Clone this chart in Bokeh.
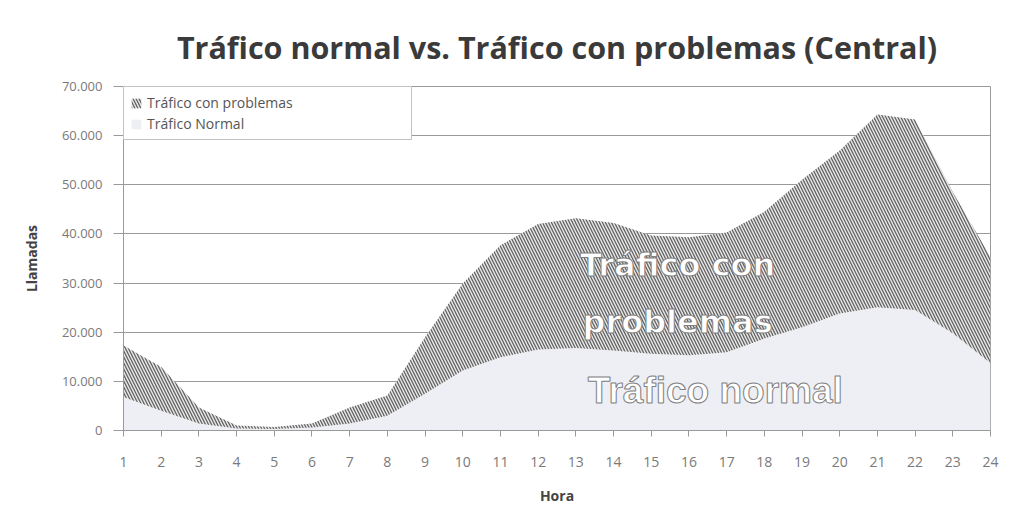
from bokeh.plotting import figure
from bokeh.models import ColumnDataSource, FixedTicker, Legend, LegendItem, Label, Range1d
from bokeh.embed import file_html
from bokeh.resources import INLINE

# ---- data ----
horas = list(range(1, 25))
hour_labels = [str(h) for h in horas]
trafico_normal = [6800, 4000, 1400, 400, 300, 600, 1400, 3000, 7500, 12200, 14900, 16500,
                  16800, 16300, 15600, 15300, 15900, 18700, 21000, 23800, 25100, 24500, 19800, 13700]
trafico_problemas = [10500, 8900, 3300, 600, 400, 800, 3300, 4100, 11500, 17700, 22800, 25500,
                     26400, 25900, 24100, 24000, 24400, 25800, 30000, 33200, 39200, 38800, 28700, 21600]
y_ticks = [0, 10000, 20000, 30000, 40000, 50000, 60000, 70000]
y_tick_labels = ["0", "10.000", "20.000", "30.000", "40.000", "50.000", "60.000", "70.000"]

titulo = "Tráfico normal vs. Tráfico con problemas (Central)"

total = [a + b for a, b in zip(trafico_normal, trafico_problemas)]
zeros = [0] * len(horas)
src = ColumnDataSource(dict(x=horas, zero=zeros, normal=trafico_normal, total=total))

p = figure(width=1014, height=507, output_backend="svg", toolbar_location=None,
           x_range=Range1d(1, 24), y_range=Range1d(0, 70000),
           min_border_left=123, min_border_right=24, min_border_top=86, min_border_bottom=71)

p.title.text = titulo
p.title.align = "center"
p.title.text_font = "Open Sans"
p.title.text_font_size = "30.5px"
p.title.text_font_style = "bold"
p.title.text_color = "#3a3a3a"
p.title.offset = 0
p.title.standoff = 38

grid_color = "#9a9a9a"
text_grey = "#7a7a7a"

normal_r = p.varea(x="x", y1="zero", y2="normal", source=src, fill_color="#eeeef5")
prob_r = p.varea(x="x", y1="normal", y2="total", source=src, fill_color="#e8e8e8",
                 hatch_pattern="left_diagonal_line", hatch_color="#626262",
                 hatch_scale=6, hatch_weight=1.3)

# axes
p.yaxis.ticker = FixedTicker(ticks=y_ticks)
p.yaxis.major_label_overrides = dict(zip(y_ticks, y_tick_labels))
p.xaxis.ticker = FixedTicker(ticks=horas)
p.xaxis.major_label_overrides = dict(zip(horas, hour_labels))

for ax in (p.xaxis[0], p.yaxis[0]):
    ax.axis_line_color = grid_color
    ax.major_tick_line_color = grid_color
    ax.minor_tick_line_color = None
    ax.major_tick_in = 0
    ax.major_label_text_color = text_grey
    ax.major_label_text_font = "Open Sans"
    ax.axis_label_text_font = "Open Sans"
    ax.axis_label_text_font_style = "bold"
    ax.axis_label_text_color = "#444444"
    ax.axis_label_text_font_size = "14px"

p.xaxis.major_tick_out = 6
p.xaxis.major_label_text_font_size = "14px"
p.xaxis.major_label_standoff = 20
p.xaxis.axis_label = "Hora"
p.xaxis.axis_label_standoff = 16

p.yaxis.major_tick_out = 10
p.yaxis.major_label_text_font_size = "13px"
p.yaxis.major_label_standoff = 11
p.yaxis.axis_label = "Llamadas"
p.yaxis.axis_label_standoff = 18

p.xgrid.grid_line_color = None
p.ygrid.grid_line_color = grid_color
p.ygrid.grid_line_width = 1
p.outline_line_color = grid_color
p.background_fill_color = "white"
p.border_fill_color = "white"

legend = Legend(items=[LegendItem(label="Tráfico con problemas", renderers=[prob_r]),
                       LegendItem(label="Tráfico Normal", renderers=[normal_r])],
                location="top_left", margin=0, padding=6, spacing=2,
                glyph_width=12, glyph_height=12, label_height=19, label_width=258,
                label_text_font="Open Sans", label_text_font_size="14px",
                label_text_color="#555555", border_line_color="#888888",
                background_fill_color="white", background_fill_alpha=1)
p.add_layout(legend)

# outlined area labels
lab_kw = dict(x_units="data", y_units="data", text_font_style="bold",
              text_color="white", text_outline_color="#808080", text_align="center",
              text_baseline="middle")
p.add_layout(Label(x=15.7, y=33600, text="Tráfico con", text_font="DejaVu Sans",
                   text_font_size="32px", **lab_kw))
p.add_layout(Label(x=15.7, y=22000, text="problemas", text_font="DejaVu Sans",
                   text_font_size="32px", **lab_kw))
p.add_layout(Label(x=16.7, y=8200, text="Tráfico normal", text_font="Liberation Sans",
                   text_font_size="37px", **lab_kw))

open("out.html", "w").write(file_html(p, INLINE))
